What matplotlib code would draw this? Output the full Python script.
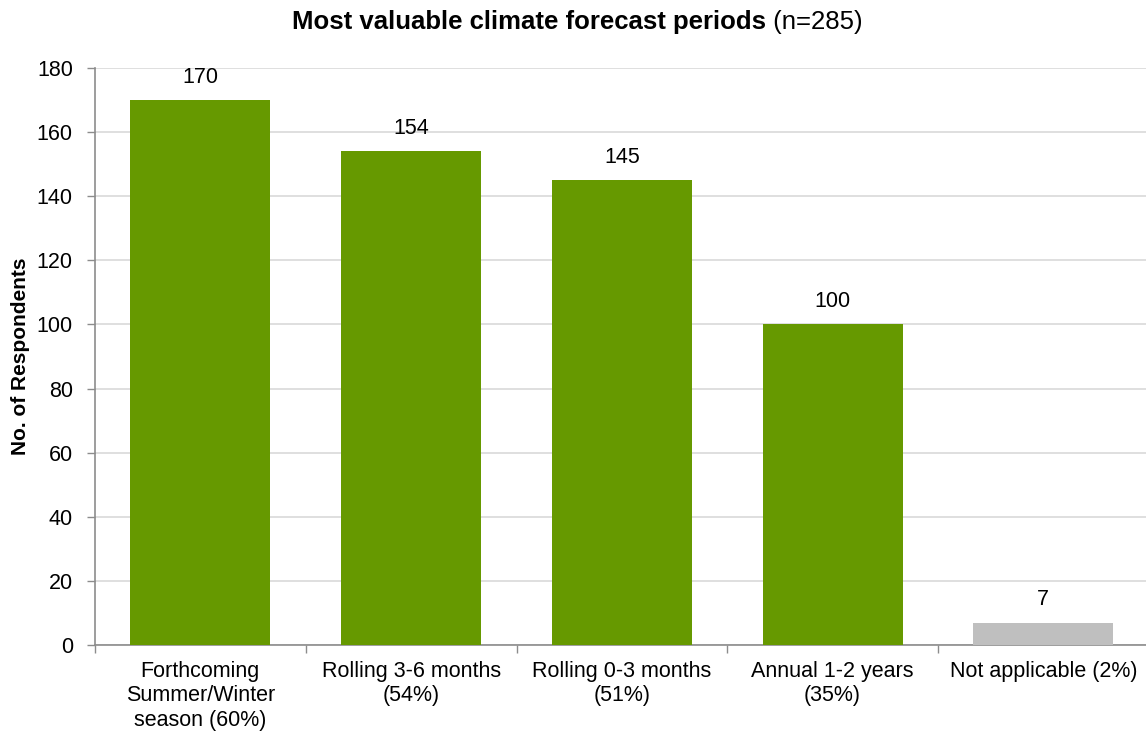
import matplotlib
matplotlib.use("Agg")
import matplotlib.pyplot as plt
from matplotlib.ticker import MultipleLocator

plt.rcParams['font.family'] = ['Liberation Sans', 'DejaVu Sans']

categories = [
    "Forthcoming\nSummer/Winter\nseason (60%)",
    "Rolling 3-6 months\n(54%)",
    "Rolling 0-3 months\n(51%)",
    "Annual 1-2 years\n(35%)",
    "Not applicable (2%)",
]
respondents = [170, 154, 145, 100, 7]
bar_colors = ["#669900", "#669900", "#669900", "#669900", "#BFBFBF"]

W, H = 1146, 731
fig = plt.figure(figsize=(W / 100, H / 100), dpi=100)
left, right, bottom, top = 95, 1146, 645, 68
ax = fig.add_axes([left / W, 1 - bottom / H, (right - left) / W, (bottom - top) / H])

x = list(range(len(categories)))
bars = ax.bar(x, respondents, width=0.665, color=bar_colors, zorder=3)

cat_w = 210.75
ax.set_xlim(-0.5, -0.5 + (right - left) / cat_w)
ax.set_ylim(0, 180)
ax.yaxis.set_major_locator(MultipleLocator(20))
ax.grid(axis='y', color='#D9D9D9', linewidth=1.2, zorder=0)

for s in ['top', 'right']:
    ax.spines[s].set_visible(False)
for s in ['left', 'bottom']:
    ax.spines[s].set_color('#8C8C8C')
    ax.spines[s].set_linewidth(1.2)

fs = 15.5
ax.tick_params(axis='y', direction='out', length=6, width=1, color='#8C8C8C',
               labelsize=fs, pad=10)
ax.set_xticks(x)
ax.set_xticklabels(categories, fontsize=fs, linespacing=1.22)
ax.tick_params(axis='x', length=0, pad=11.5)
ax.set_xticks([i + 0.5 for i in range(-1, len(categories) - 1)], minor=True)
ax.tick_params(axis='x', which='minor', direction='out', length=6, width=1, color='#8C8C8C')

for b, v in zip(bars, respondents):
    ax.annotate(f"{v}", (b.get_x() + b.get_width() / 2, v), xytext=(0, 16.5),
                textcoords='offset points', ha='center', va='center', fontsize=fs)

ax.set_ylabel("No. of Respondents", fontsize=15, fontweight='bold', va='center')
ax.yaxis.set_label_coords(-(95 - 21) / (right - left), 0.5)

# Title: bold heading followed by regular-weight sample size
ty = 1 - 22 / H
t1 = fig.text(0, ty, "Most valuable climate forecast periods", fontsize=18.5,
              fontweight='bold', ha='left', va='center')
t2 = fig.text(0, ty, " (n=285)", fontsize=18.5, ha='left', va='center')
fig.canvas.draw()
r = fig.canvas.get_renderer()
w1 = t1.get_window_extent(r).width
w2 = t2.get_window_extent(r).width
x0 = 577 - (w1 + w2) / 2
t1.set_x(x0 / W)
t2.set_x((x0 + w1) / W)

fig.savefig("out.png", dpi=100)
